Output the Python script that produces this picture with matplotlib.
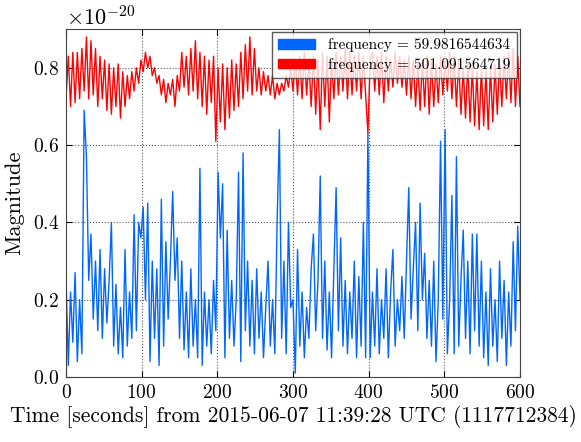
import matplotlib
matplotlib.use("Agg")
import matplotlib.pyplot as plt
from matplotlib.patches import Patch
from matplotlib.ticker import MultipleLocator, ScalarFormatter
import numpy as np

plt.rcParams["font.family"] = "serif"
plt.rcParams["font.serif"] = ["cmr10", "DejaVu Serif"]
plt.rcParams["mathtext.fontset"] = "cm"
plt.rcParams["axes.unicode_minus"] = False
plt.rcParams["axes.formatter.use_mathtext"] = True

# time axis, 3 s steps from 0 to 600 s
time = np.arange(0, 601, 3)

# magnitude in units of 1e-20
f60_mag = [
    0.26, 0.03, 0.22, 0.09, 0.27, 0.04, 0.20, 0.06, 0.69, 0.57,
    0.25, 0.37, 0.15, 0.30, 0.12, 0.33, 0.10, 0.28, 0.14, 0.25,
    0.40, 0.08, 0.24, 0.06, 0.18, 0.05, 0.33, 0.08, 0.22, 0.10,
    0.42, 0.12, 0.40, 0.36, 0.44, 0.20, 0.45, 0.04, 0.30, 0.10,
    0.28, 0.03, 0.46, 0.08, 0.35, 0.15, 0.30, 0.48, 0.25, 0.36,
    0.10, 0.30, 0.07, 0.22, 0.05, 0.28, 0.08, 0.20, 0.05, 0.54,
    0.03, 0.22, 0.08, 0.20, 0.06, 0.25, 0.12, 0.53, 0.36, 0.50,
    0.05, 0.38, 0.10, 0.25, 0.08, 0.20, 0.53, 0.04, 0.58, 0.12,
    0.30, 0.08, 0.25, 0.06, 0.28, 0.10, 0.22, 0.05, 0.18, 0.30,
    0.08, 0.20, 0.06, 0.40, 0.64, 0.10, 0.30, 0.06, 0.40, 0.18,
    0.20, 0.01, 0.33, 0.08, 0.22, 0.05, 0.18, 0.10, 0.28, 0.37,
    0.12, 0.25, 0.52, 0.10, 0.30, 0.07, 0.22, 0.05, 0.28, 0.49,
    0.12, 0.36, 0.08, 0.25, 0.06, 0.22, 0.10, 0.30, 0.05, 0.26,
    0.08, 0.40, 0.05, 0.63, 0.05, 0.22, 0.08, 0.28, 0.06, 0.20,
    0.10, 0.28, 0.05, 0.22, 0.33, 0.08, 0.20, 0.12, 0.26, 0.10,
    0.30, 0.49, 0.15, 0.28, 0.40, 0.12, 0.45, 0.20, 0.32, 0.10,
    0.25, 0.08, 0.30, 0.04, 0.20, 0.61, 0.15, 0.64, 0.06, 0.20,
    0.47, 0.06, 0.57, 0.08, 0.25, 0.38, 0.10, 0.30, 0.06, 0.37,
    0.12, 0.37, 0.08, 0.30, 0.05, 0.22, 0.03, 0.28, 0.08, 0.20,
    0.04, 0.30, 0.10, 0.25, 0.03, 0.22, 0.08, 0.35, 0.12, 0.39,
    0.20,
]

f501_mag = [
    0.72, 0.83, 0.70, 0.84, 0.71, 0.84, 0.72, 0.85, 0.74, 0.88,
    0.72, 0.87, 0.73, 0.85, 0.70, 0.83, 0.72, 0.82, 0.69, 0.81,
    0.68, 0.80, 0.70, 0.81, 0.67, 0.79, 0.70, 0.78, 0.72, 0.79,
    0.74, 0.80, 0.76, 0.82, 0.79, 0.84, 0.80, 0.83, 0.78, 0.80,
    0.76, 0.78, 0.73, 0.77, 0.71, 0.76, 0.73, 0.77, 0.70, 0.78,
    0.74, 0.84, 0.75, 0.83, 0.73, 0.85, 0.74, 0.87, 0.72, 0.84,
    0.70, 0.83, 0.68, 0.82, 0.71, 0.83, 0.61, 0.80, 0.66, 0.81,
    0.64, 0.80, 0.67, 0.82, 0.69, 0.81, 0.70, 0.84, 0.72, 0.86,
    0.74, 0.88, 0.73, 0.85, 0.74, 0.80, 0.73, 0.79, 0.74, 0.78,
    0.73, 0.78, 0.72, 0.76, 0.73, 0.76, 0.74, 0.78, 0.75, 0.80,
    0.74, 0.82, 0.73, 0.83, 0.72, 0.84, 0.73, 0.82, 0.70, 0.83,
    0.68, 0.82, 0.64, 0.84, 0.70, 0.83, 0.66, 0.82, 0.72, 0.84,
    0.73, 0.83, 0.74, 0.85, 0.72, 0.84, 0.73, 0.83, 0.74, 0.84,
    0.72, 0.83, 0.73, 0.63, 0.82, 0.84, 0.74, 0.83, 0.73, 0.84,
    0.71, 0.83, 0.74, 0.82, 0.75, 0.84, 0.76, 0.83, 0.75, 0.82,
    0.73, 0.83, 0.72, 0.82, 0.70, 0.81, 0.69, 0.82, 0.70, 0.83,
    0.68, 0.82, 0.70, 0.81, 0.71, 0.83, 0.73, 0.82, 0.74, 0.84,
    0.72, 0.83, 0.70, 0.82, 0.68, 0.80, 0.67, 0.81, 0.66, 0.80,
    0.65, 0.79, 0.64, 0.80, 0.65, 0.79, 0.64, 0.80, 0.66, 0.81,
    0.68, 0.82, 0.70, 0.83, 0.72, 0.84, 0.71, 0.85, 0.70, 0.83,
    0.70,
]

labels = ["frequency = 59.9816544634", "frequency = 501.091564719"]
colors = ["#0066ff", "#ff0000"]

fig = plt.figure(figsize=(5.81, 4.42), dpi=100)
ax = fig.add_axes([0.1136, 0.147, 0.7814, 0.787])

ax.plot(time, np.array(f60_mag) * 1e-20, color=colors[0], lw=1.0)
ax.plot(time, np.array(f501_mag) * 1e-20, color=colors[1], lw=1.0)

ax.set_xlim(0, 600)
ax.set_ylim(0, 0.9e-20)
ax.xaxis.set_major_locator(MultipleLocator(100))
ax.yaxis.set_major_locator(MultipleLocator(0.2e-20))
fmt = ScalarFormatter(useMathText=True)
fmt.set_powerlimits((-20, -20))
ax.yaxis.set_major_formatter(fmt)
ax.yaxis.get_offset_text().set_fontsize(16)

ax.tick_params(direction="in", top=True, right=True, labelsize=14, length=4, pad=5)
ax.grid(True, linestyle=":", color="#555555", lw=0.8)
for sp in ax.spines.values():
    sp.set_color("#444444")

ax.set_xlabel("Time [seconds] from 2015-06-07 11:39:28 UTC (1117712384)", fontsize=15.5, labelpad=2)
ax.set_ylabel("Magnitude", fontsize=16, labelpad=6)

handles = [Patch(color=c, label=l) for c, l in zip(colors, labels)]
leg = ax.legend(handles=handles, loc="upper right", fontsize=11, fancybox=False,
                framealpha=0.8, edgecolor="#333333", handlelength=2.4,
                handleheight=0.55, labelspacing=0.35, borderpad=0.4,
                handletextpad=0.9, borderaxespad=0.2)

fig.savefig("out.png", dpi=100)
